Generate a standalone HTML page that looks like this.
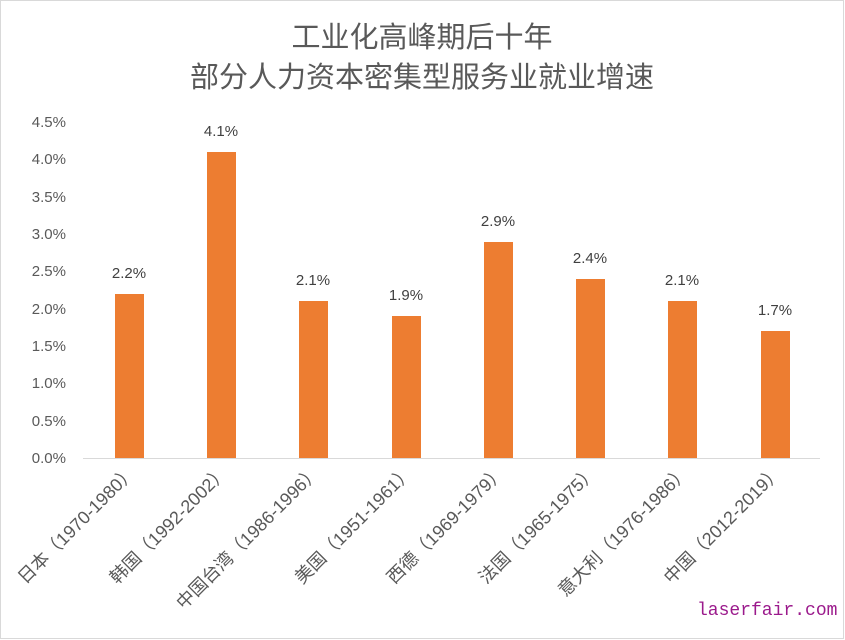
<!DOCTYPE html>
<html><head><meta charset="utf-8"><style>
html,body{margin:0;padding:0;background:#fff;}
svg{display:block;font-family:"Liberation Sans","Noto Sans CJK SC",sans-serif;}
</style></head><body>
<svg width="845" height="640" xmlns="http://www.w3.org/2000/svg">
<rect x="0.5" y="0.5" width="843" height="638" fill="#fff" stroke="#d9d9d9"/>
<g fill="#595959" font-size="29" text-anchor="middle">
<text x="422" y="47">工业化高峰期后十年</text>
<text x="422" y="87">部分人力资本密集型服务业就业增速</text>
</g>
<line x1="83" y1="458.5" x2="820" y2="458.5" stroke="#d9d9d9" stroke-width="1"/>
<g fill="#595959" font-size="15" text-anchor="end">
<text x="66" y="463">0.0%</text>
<text x="66" y="426">0.5%</text>
<text x="66" y="388">1.0%</text>
<text x="66" y="351">1.5%</text>
<text x="66" y="314">2.0%</text>
<text x="66" y="276">2.5%</text>
<text x="66" y="239">3.0%</text>
<text x="66" y="202">3.5%</text>
<text x="66" y="164">4.0%</text>
<text x="66" y="127">4.5%</text>
</g>
<g fill="#ed7d31">
<rect x="115" y="294" width="29" height="164"/>
<rect x="207" y="152" width="29" height="306"/>
<rect x="299" y="301" width="29" height="157"/>
<rect x="392" y="316" width="29" height="142"/>
<rect x="484" y="242" width="29" height="216"/>
<rect x="576" y="279" width="29" height="179"/>
<rect x="668" y="301" width="29" height="157"/>
<rect x="761" y="331" width="29" height="127"/>
</g>
<g fill="#404040" font-size="15" text-anchor="middle">
<text x="129" y="278">2.2%</text>
<text x="221" y="136">4.1%</text>
<text x="313" y="285">2.1%</text>
<text x="406" y="300">1.9%</text>
<text x="498" y="226">2.9%</text>
<text x="590" y="263">2.4%</text>
<text x="682" y="285">2.1%</text>
<text x="775" y="315">1.7%</text>
</g>
<g fill="#595959" font-size="18" text-anchor="end">
<text transform="translate(137,473) rotate(-45)">日本（1970-1980）</text>
<text transform="translate(229,473) rotate(-45)">韩国（1992-2002）</text>
<text transform="translate(321,473) rotate(-45)">中国台湾（1986-1996）</text>
<text transform="translate(414,473) rotate(-45)">美国（1951-1961）</text>
<text transform="translate(506,473) rotate(-45)">西德（1969-1979）</text>
<text transform="translate(598,473) rotate(-45)">法国（1965-1975）</text>
<text transform="translate(690,473) rotate(-45)">意大利（1976-1986）</text>
<text transform="translate(783,473) rotate(-45)">中国（2012-2019）</text>
</g>
<text x="697" y="615" fill="#9b1a8c" font-size="18" font-family="Liberation Mono, monospace">laserfair.com</text>
</svg>
</body></html>
